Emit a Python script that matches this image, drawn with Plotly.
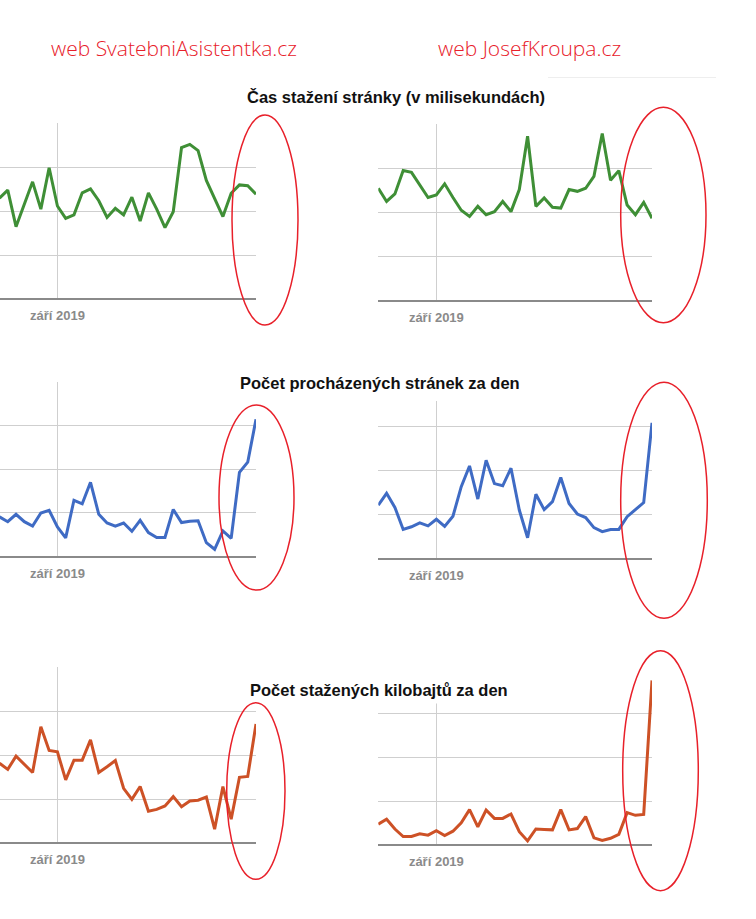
import plotly.graph_objects as go
import pandas as pd

W, H = 756, 919

# ---------------- data ----------------
dates_left = pd.date_range("2019-08-25", periods=32, freq="D")
dates_right = pd.date_range("2019-08-25", periods=34, freq="D")
tick_dates = ["2019-09-01"]
tick_labels = ["září 2019"]

site_titles = ["web SvatebniAsistentka.cz", "web JosefKroupa.cz"]
chart_titles = ["Čas stažení stránky (v milisekundách)",
                "Počet procházených stránek za den",
                "Počet stažených kilobajtů za den"]

load_time_svatebni = [2.30, 2.48, 1.65, 2.14, 2.67, 2.05, 2.99, 2.12, 1.84, 1.92,
                      2.42, 2.51, 2.24, 1.86, 2.07, 1.92, 2.32, 1.78, 2.42, 2.05,
                      1.63, 1.99, 3.45, 3.52, 3.38, 2.70, 2.30, 1.88, 2.41, 2.60,
                      2.58, 2.39]
load_time_kroupa = [2.55, 2.25, 2.42, 2.95, 2.91, 2.63, 2.34, 2.40, 2.65, 2.34,
                    2.05, 1.91, 2.14, 1.95, 2.02, 2.25, 2.02, 2.52, 3.73, 2.14,
                    2.33, 2.12, 2.10, 2.52, 2.48, 2.55, 2.82, 3.79, 2.73, 2.95,
                    2.17, 1.95, 2.23, 1.87]
pages_svatebni = [0.91, 0.80, 0.97, 0.80, 0.70, 1.00, 1.06, 0.68, 0.43, 1.29,
                  1.21, 1.70, 0.97, 0.77, 0.70, 0.77, 0.58, 0.83, 0.55, 0.44,
                  0.44, 1.08, 0.78, 0.81, 0.82, 0.32, 0.17, 0.59, 0.42, 1.93,
                  2.16, 3.14]
pages_kroupa = [1.21, 1.48, 1.16, 0.66, 0.72, 0.81, 0.74, 0.89, 0.73, 0.96,
                1.63, 2.10, 1.35, 2.23, 1.70, 1.65, 2.05, 1.10, 0.47, 1.46,
                1.11, 1.29, 1.84, 1.25, 1.01, 0.93, 0.70, 0.61, 0.66, 0.66,
                0.95, 1.11, 1.27, 3.08]
kb_svatebni = [1.82, 1.68, 1.98, 1.80, 1.61, 2.65, 2.11, 2.08, 1.44, 1.89,
               1.89, 2.35, 1.61, 1.74, 1.88, 1.25, 1.00, 1.29, 0.73, 0.77,
               0.85, 1.06, 0.83, 0.96, 0.98, 1.05, 0.32, 1.29, 0.55, 1.50,
               1.52, 2.71]
kb_kroupa = [0.48, 0.59, 0.37, 0.20, 0.20, 0.26, 0.23, 0.33, 0.22, 0.32,
             0.51, 0.81, 0.42, 0.80, 0.61, 0.61, 0.71, 0.31, 0.10, 0.37,
             0.36, 0.35, 0.81, 0.35, 0.38, 0.65, 0.17, 0.11, 0.16, 0.25,
             0.74, 0.68, 0.70, 3.74]

GREEN, BLUE, ORANGE = "#3f8f36", "#3f6bc4", "#cd5126"

def fx(px):
    return px / W

def fy(py):
    return 1 - py / H

# chart geometry (pixels): x0, x1, top, bottom, x range
charts = [
    (dates_left, load_time_svatebni, GREEN, 0, 256, 123.3, 299.3, ["2019-08-25 01:30", "2019-09-25"]),
    (dates_right, load_time_kroupa, GREEN, 378.3, 652, 124.3, 300.7, ["2019-08-25", "2019-09-27"]),
    (dates_left, pages_svatebni, BLUE, 0, 256, 381.7, 556.7, ["2019-08-25 01:30", "2019-09-25"]),
    (dates_right, pages_kroupa, BLUE, 378.3, 652, 382.3, 558.5, ["2019-08-25", "2019-09-27"]),
    (dates_left, kb_svatebni, ORANGE, 0, 256, 667.3, 843.3, ["2019-08-25 01:30", "2019-09-25"]),
    (dates_right, kb_kroupa, ORANGE, 378.3, 652, 669, 845.3, ["2019-08-25", "2019-09-27"]),
]

fig = go.Figure()
layout_axes = {}
for k, (xs, ys, col, x0, x1, top, bot, xr) in enumerate(charts, start=1):
    sfx = "" if k == 1 else str(k)
    fig.add_trace(go.Scatter(x=xs, y=ys, mode="lines",
                             line=dict(color=col, width=3),
                             xaxis="x" + sfx, yaxis="y" + sfx,
                             showlegend=False, hoverinfo="skip"))
    layout_axes["xaxis" + sfx] = dict(
        domain=[fx(x0), fx(x1)], range=xr, type="date", anchor="y" + sfx,
        tickvals=tick_dates, ticktext=tick_labels, ticks="",
        showgrid=True, gridcolor="#cfcfcf", gridwidth=1,
        zeroline=False, showline=False, ticklabelstandoff=7,
        tickfont=dict(family="Liberation Sans, Arial, sans-serif", size=13,
                      color="#8a8a8a", weight="bold"),
        fixedrange=True)
    layout_axes["yaxis" + sfx] = dict(
        domain=[fy(bot), fy(top)], range=[0, 4], anchor="x" + sfx,
        tickvals=[1, 2, 3, 4], showticklabels=False, ticks="",
        showgrid=True, gridcolor="#cfcfcf", gridwidth=1,
        zeroline=True, zerolinecolor="#8a8a8a", zerolinewidth=1.5,
        showline=False, fixedrange=True)

shapes = []
# white boxes behind the overlapping titles
for (bx0, bx1, by0, by1) in [(233, 525, 364, 401), (233, 526, 655, 703.5)]:
    shapes.append(dict(type="rect", xref="paper", yref="paper",
                       x0=fx(bx0), x1=fx(bx1), y0=fy(by1), y1=fy(by0),
                       fillcolor="white", line=dict(width=0), layer="above"))
# faint line (screenshot remnant)
shapes.append(dict(type="line", xref="paper", yref="paper",
                   x0=fx(548), x1=fx(716), y0=fy(77.5), y1=fy(77.5),
                   line=dict(color="#eeeeee", width=1), layer="above"))
# red ellipses
for (ex0, ex1, ey0, ey1) in [(232, 298, 115, 325), (620.7, 706, 107.3, 322.7),
                             (219, 294, 405, 590), (620.7, 707.3, 382.3, 618.3),
                             (226.7, 285, 702.7, 879.3), (622.7, 698.3, 650.7, 890.7)]:
    shapes.append(dict(type="circle", xref="paper", yref="paper",
                       x0=fx(ex0), x1=fx(ex1), y0=fy(ey1), y1=fy(ey0),
                       line=dict(color="#e8202a", width=1.5), layer="above"))

annotations = []
for txt, cx in zip(site_titles, [173.5, 529.5]):
    annotations.append(dict(text=txt, xref="paper", yref="paper",
                            x=fx(cx), y=fy(48), xanchor="center", yanchor="middle",
                            showarrow=False,
                            font=dict(family="Open Sans, sans-serif", size=21,
                                      color="#e8202a", weight=300)))
for txt, cx, cy in zip(chart_titles, [396.5, 380.5, 379], [97, 383, 690]):
    annotations.append(dict(text=txt, xref="paper", yref="paper",
                            x=fx(cx), y=fy(cy), xanchor="center", yanchor="middle",
                            showarrow=False,
                            font=dict(family="Liberation Sans, Arial, sans-serif",
                                      size=16.5, color="#111111", weight="bold")))

fig.update_layout(width=W, height=H, margin=dict(l=0, r=0, t=0, b=0),
                  paper_bgcolor="white", plot_bgcolor="white",
                  shapes=shapes, annotations=annotations, **layout_axes)

fig.write_html("out.html")
